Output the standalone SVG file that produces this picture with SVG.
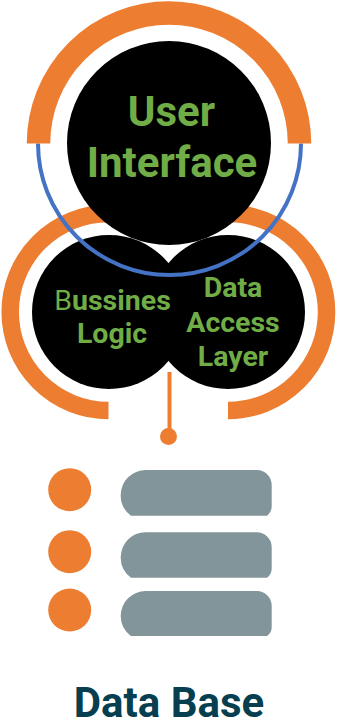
<svg xmlns="http://www.w3.org/2000/svg" width="337" height="721" viewBox="0 0 337 721">
<style>
.arc{fill:none;stroke:#ED7D31}
.blk{fill:#000}
.dot{fill:#ED7D31}
.bar{fill:#82959A}
text{font-family:Roboto,"Liberation Sans",sans-serif;font-weight:700;text-anchor:middle;fill:#70AD47}
.big{font-size:42px}
.mid{font-size:28.500px}
.reg{font-weight:400}
.title{font-size:42px;fill:#073F50}
</style>
<rect width="337" height="721" fill="#fff"/>
<g id="business-ring"><path class="arc" stroke-width="17.5" d="M108.500 410.500A98.500 98.500 0 1 1 109 213.500"/></g>
<g id="data-ring"><path class="arc" stroke-width="17.5" d="M228 410.500A98.500 98.500 0 1 0 228 213.500"/></g>
<g id="business-logic"><circle class="blk" cx="109" cy="312" r="77"/></g>
<g id="data-access"><circle class="blk" cx="228" cy="312" r="77"/></g>
<g id="user-interface"><circle class="blk" cx="169" cy="143" r="102"/></g>
<g id="connectors">
<path fill="none" stroke="#4472C4" stroke-width="4" d="M38 143.500A131.500 131.500 0 0 0 301 143.500"/>
<path class="arc" stroke-width="23.500" d="M38.500 143.500A130.500 130.500 0 0 1 299.500 143.500"/>
<path fill="none" stroke="#ED7D31" stroke-width="4" d="M169.500 372V432"/>
<circle class="dot" cx="168.500" cy="436.500" r="8.500"/>
</g>
<g id="user-interface-label"><text class="big" x="171.500" y="126">User</text><text class="big" x="172" y="176.500">Interface</text></g>
<g id="business-logic-label"><text class="mid" x="112.500" y="310"><tspan class="reg">B</tspan>ussines</text><text class="mid" x="112" y="343">Logic</text></g>
<g id="data-access-label"><text class="mid" x="233" y="297">Data</text><text class="mid" x="233" y="332">Access</text><text class="mid" x="233" y="366">Layer</text></g>
<g id="db-row-1"><circle class="dot" cx="69.700" cy="489.700" r="21.500"/><path class="bar" d="M145.700 470H257A15 15 0 0 1 271.700 485V506Q271.700 512 267 515.700H131A25 25 0 0 1 120.700 495A25 25 0 0 1 145.700 470Z"/></g>
<g id="db-row-2"><circle class="dot" cx="69.700" cy="551.700" r="21.500"/><path class="bar" d="M145.700 532.200H257A15 15 0 0 1 271.700 547.200V568.200Q271.700 574.200 267 577.700H131A25 25 0 0 1 120.700 557.200A25 25 0 0 1 145.700 532.200Z"/></g>
<g id="db-row-3"><circle class="dot" cx="69.700" cy="610" r="21.500"/><path class="bar" d="M145.700 591H257A15 15 0 0 1 271.700 606V627Q271.700 633 267 636H131A25 25 0 0 1 120.700 616A25 25 0 0 1 145.700 591Z"/></g>
<g id="data-base-label"><text class="title" x="169" y="716.500">Data Base</text></g>
</svg>
